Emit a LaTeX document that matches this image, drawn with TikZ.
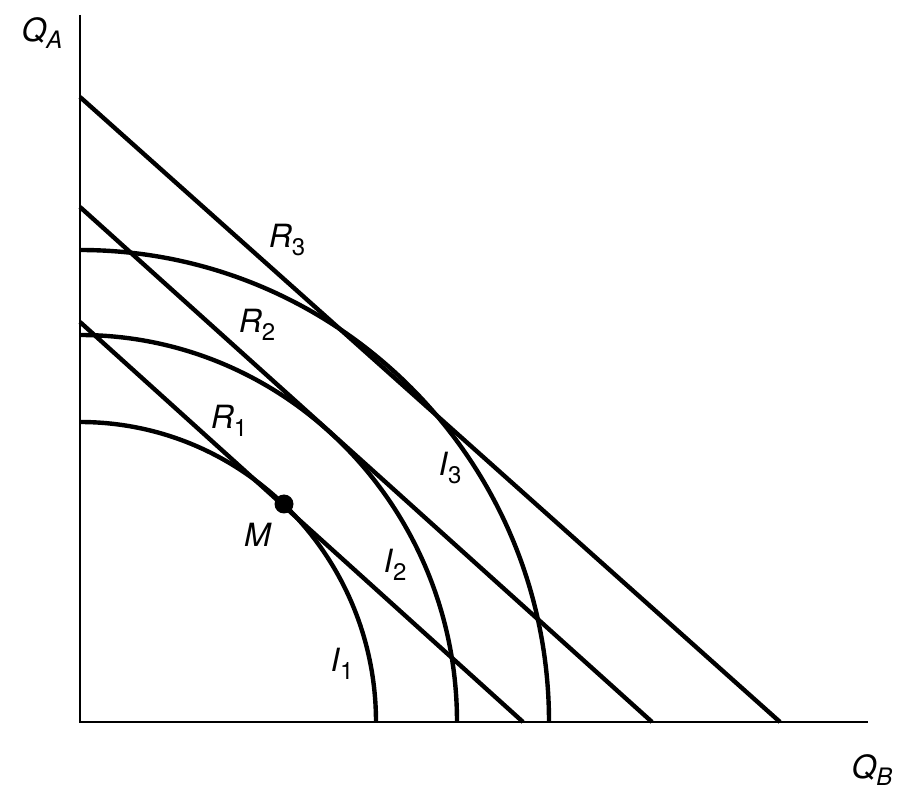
\documentclass[tikz,border=0pt]{standalone}
\usepackage{fontspec}
\setmainfont{TeX Gyre Heros}
\newcommand\mylab[2]{\textit{#1}\raisebox{-0.45ex}{\fontsize{24}{24}\selectfont #2}}
\begin{document}
\begin{tikzpicture}[x=1pt,y=1pt,
  thick line/.style={line width=4.4pt},
  axis line/.style={line width=2.6pt},
  lbl/.style={font=\fontsize{32}{32}\selectfont, inner sep=0pt}]
\useasboundingbox (-80,-74) rectangle (839,722);
% axes
\coordinate (O) at (0,0);
\coordinate (ytop) at (0,707);
\coordinate (xend) at (788,0);
\draw[axis line] (ytop) -- (O) -- (xend);
% budget lines
\coordinate (r1a) at (0,400); \coordinate (r1b) at (443,0);
\coordinate (r2a) at (0,515); \coordinate (r2b) at (572,0);
\coordinate (r3a) at (0,625); \coordinate (r3b) at (700,0);
\draw[thick line] (r1a) -- (r1b);
\draw[thick line] (r2a) -- (r2b);
\draw[thick line] (r3a) -- (r3b);
% indifference curves
\coordinate (i1a) at (0,300);
\coordinate (i2a) at (0,387);
\coordinate (i3a) at (0,472);
\draw[thick line] (i1a) arc[start angle=90, end angle=0, x radius=296, y radius=300];
\draw[thick line] (i2a) arc[start angle=90, end angle=0, x radius=377, y radius=387];
\draw[thick line] (i3a) arc[start angle=90, end angle=0, x radius=469, y radius=472];
% point M
\fill (204,218) circle[radius=9.5];
% labels
\node[lbl] (QA) at (-38,689) {\mylab{Q}{\textit{A}}};
\node[lbl] (QB) at (792,-48) {\mylab{Q}{\textit{B}}};
\node[lbl] (R3) at (207,482) {\mylab{R}{3}};
\node[lbl] (R2) at (177,397) {\mylab{R}{2}};
\node[lbl] (R1) at (149,301) {\mylab{R}{1}};
\node[lbl] (M) at (178,187) {\textit{M}};
\node[lbl] (I1) at (262,58) {\mylab{I}{1}};
\node[lbl] (I2) at (315,157) {\mylab{I}{2}};
\node[lbl] (I3) at (370,254) {\mylab{I}{3}};
\end{tikzpicture}
\end{document}
